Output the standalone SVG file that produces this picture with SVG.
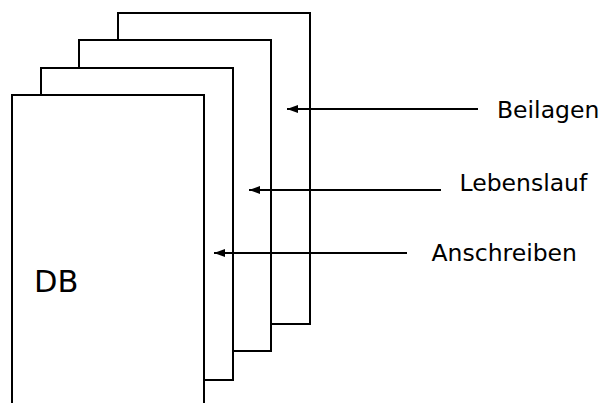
<svg xmlns="http://www.w3.org/2000/svg" width="601" height="403" viewBox="0 0 601 403">
<style>
.page{fill:#fff;stroke:#000;stroke-width:2}
.conn{stroke:#000;stroke-width:2;fill:none}
text{font-family:"DejaVu Sans",Verdana,sans-serif;fill:#000}
.lbl{font-size:23.5px}
</style>
<defs>
<marker id="ah" markerWidth="12" markerHeight="10" refX="11" refY="5" orient="auto" markerUnits="userSpaceOnUse">
<path d="M0,1 L11,5 L0,9 Z" fill="#000"/>
</marker>
</defs>
<rect width="601" height="403" fill="#fff"/>
<g id="beilagen-page"><rect class="page" x="118" y="13" width="192" height="311"/></g>
<g id="lebenslauf-page"><rect class="page" x="79" y="40" width="192" height="311"/></g>
<g id="anschreiben-page"><rect class="page" x="41" y="68" width="192" height="312"/></g>
<g id="db"><rect class="page" x="12" y="95" width="192" height="330"/>
<text x="34" y="292" style="font-size:30.5px">DB</text></g>
<g id="connectors">
<line class="conn" x1="478" y1="109" x2="287" y2="109" marker-end="url(#ah)"/>
<line class="conn" x1="441" y1="190" x2="249" y2="190" marker-end="url(#ah)"/>
<line class="conn" x1="407" y1="253" x2="214" y2="253" marker-end="url(#ah)"/>
</g>
<g id="labels">
<text class="lbl" x="497" y="117.5">Beilagen</text>
<text class="lbl" x="459.5" y="190.5">Lebenslauf</text>
<text class="lbl" x="431.5" y="261">Anschreiben</text>
</g>
</svg>
